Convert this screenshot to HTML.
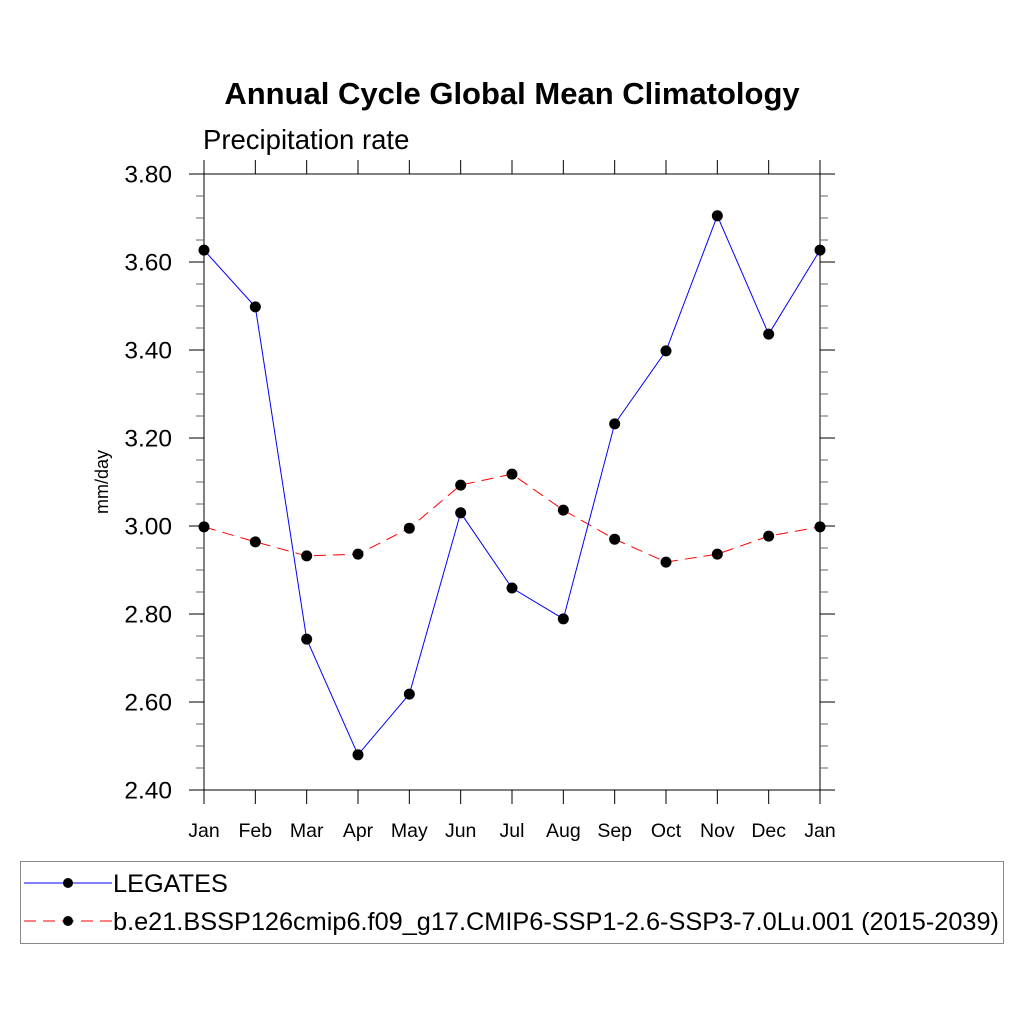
<!DOCTYPE html>
<html><head><meta charset="utf-8"><style>body{margin:0;background:#fff}svg{display:block}text{font-family:"Liberation Sans",sans-serif}</style></head>
<body>
<svg id="c" width="1024" height="1024">
<text x="512" y="104" font-size="31" font-weight="bold" text-anchor="middle">Annual Cycle Global Mean Climatology</text>
<text x="203" y="149" font-size="27.5">Precipitation rate</text>
<text transform="translate(108,482) rotate(-90)" font-size="18" text-anchor="middle">mm/day</text>
<g id="axes"></g><g id="series"></g>
<rect x="20.5" y="861.5" width="983" height="82" fill="none" stroke="#888"/>
<line x1="24" y1="883" x2="112" y2="883" stroke="#00f" stroke-width="1"/>
<circle cx="68" cy="883" r="5" fill="#000"/>
<text x="113" y="892" font-size="25.3">LEGATES</text>
<line x1="24" y1="921" x2="112" y2="921" stroke="#f00" stroke-dasharray="12,7"/>
<circle cx="68" cy="921" r="5" fill="#000"/>
<text x="113" y="930" font-size="25.3">b.e21.BSSP126cmip6.f09_g17.CMIP6-SSP1-2.6-SSP3-7.0Lu.001 (2015-2039)</text>
</svg>
<script>
const months=["Jan","Feb","Mar","Apr","May","Jun","Jul","Aug","Sep","Oct","Nov","Dec","Jan"];
const legates=[3.627,3.498,2.743,2.480,2.618,3.030,2.859,2.789,3.232,3.398,3.705,3.436,3.627];
const model=[2.998,2.964,2.932,2.936,2.995,3.093,3.118,3.036,2.970,2.918,2.936,2.977,2.998];
const yTicks=["2.40","2.60","2.80","3.00","3.20","3.40","3.60","3.80"];
const NS="http://www.w3.org/2000/svg";
const X0=204,X1=820,Y0=790,Y1=174,YMIN=2.4,YMAX=3.8;
function xs(i){return X0+(X1-X0)*i/(months.length-1);}
function ys(v){return Y0-(v-YMIN)/(YMAX-YMIN)*(Y0-Y1);}
function mk(t,a,p){const e=document.createElementNS(NS,t);for(const k in a)e.setAttribute(k,a[k]);p.appendChild(e);return e;}
const ax=document.getElementById('axes'),se=document.getElementById('series');
let fr=mk('rect',{x:X0,y:Y1,width:X1-X0,height:Y0-Y1,fill:'none',stroke:'#000','stroke-width':1},ax);


months.forEach((m,i)=>{const x=xs(i);
 mk('line',{x1:x,y1:Y0,x2:x,y2:Y0+14,stroke:'#000'},ax);
 mk('line',{x1:x,y1:Y1,x2:x,y2:Y1-14,stroke:'#000'},ax);
 const t=mk('text',{x:x,y:Y0+47,'font-size':19.5,'text-anchor':'middle'},ax);t.textContent=m;
 
 });
for(let v=YMIN;v<=YMAX+1e-6;v+=0.05){const y=ys(v);const maj=Math.abs(Math.round(v*5)-v*5)<1e-6;const L=maj?15:8;
 mk('line',{x1:X0-L,y1:y,x2:X0,y2:y,stroke:maj?'#000':'#666'},ax);
 mk('line',{x1:X1,y1:y,x2:X1+L,y2:y,stroke:maj?'#000':'#666'},ax);}
yTicks.forEach(s=>{const t=mk('text',{x:172,y:ys(+s)+8.5,'font-size':24.5,'text-anchor':'end'},ax);t.textContent=s;
 
 });
function draw(vals,col,dash,name){
 const p=mk('polyline',{points:vals.map((v,i)=>xs(i)+','+ys(v)).join(' '),fill:'none',stroke:col,'stroke-width':1,'stroke-dasharray':dash},se);
 
 
 vals.forEach((v,i)=>{const c=mk('circle',{cx:xs(i),cy:ys(v),r:5.5,fill:'#000'},se);
  
  });}
draw(model,'#f00','12,7','model');
draw(legates,'#00f','none','legates');
</script>
</body></html>
